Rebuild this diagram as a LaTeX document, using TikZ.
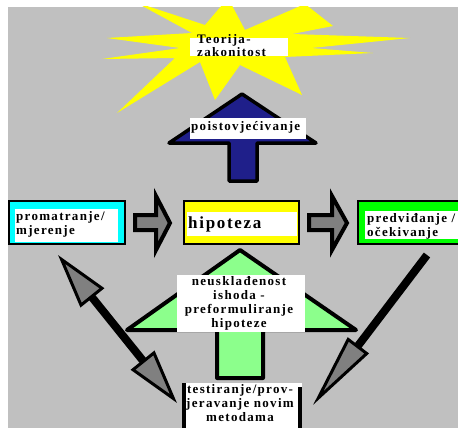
\documentclass[tikz,border=0pt]{standalone}
\usepackage{fontspec}
\newfontfamily\lbl[LetterSpace=10]{Liberation Serif}
\usetikzlibrary{arrows.meta}
\definecolor{bgray}{RGB}{192,192,192}
\definecolor{navyb}{RGB}{31,31,138}
\definecolor{lgreen}{RGB}{140,255,140}
\definecolor{agray}{RGB}{128,128,128}
\definecolor{sunyel}{RGB}{255,255,0}
\definecolor{boxgreen}{RGB}{0,255,0}
\definecolor{boxcyan}{RGB}{0,255,255}
\begin{document}
\begin{tikzpicture}[x=1pt,y=-1pt,
  txt/.style={font=\lbl\bfseries\fontsize{13}{13.8}\selectfont, inner sep=0pt, text=black},
  bigtxt/.style={font=\lbl\bfseries\fontsize{17}{19}\selectfont, inner sep=0pt, text=black},
  box/.style={draw=black, line width=2pt, inner sep=0pt},
  wbox/.style={fill=white, inner sep=0pt},
  blockarrow/.style={draw=black, line width=4pt, line join=round},
  grayarrow/.style={draw=black, fill=agray, line width=4pt, line join=miter},
  gtip/.tip={Triangle[length=55pt, width=30pt, line width=3pt, fill=agray]},
  stick/.style={draw=black, line width=8pt}
]
\useasboundingbox (0,0) rectangle (458,428);
\fill[white] (0,0) rectangle (458,428);
\fill[bgray] (8,7) rectangle (458,428);

% sun
\begin{scope}
\clip (8,7) rectangle (458,428);
\fill[sunyel] (228,-2) -- (245,30) -- (305,4) -- (333,26) -- (292,34) -- (410,38)
  -- (311,48) -- (373,53) -- (285,57) -- (302,95) -- (240,65) -- (215,100)
  -- (200,62) -- (117,113) -- (175,58) -- (102,59) -- (180,48) -- (107,38)
  -- (192,33) -- (135,2) -- (205,25) -- cycle;
\end{scope}
\node[wbox, minimum width=98pt, minimum height=18pt] (teobox) at (239,47) {};
\node[txt, align=left, anchor=base west] (teo) at (197,57) {Teorija-\\zakonitost};

% blue up arrow (hipoteza -> teorija)
\draw[blockarrow, line width=3.5pt, fill=navyb] (242,94) -- (316,143) -- (257,143) -- (257,181)
  -- (229,181) -- (229,143) -- (169,143) -- cycle;
\node[wbox, minimum width=116pt, minimum height=21pt] (poibox) at (248,128.5) {};
\node[txt, anchor=base west] (poi) at (191,130) {poistovjećivanje};

% boxes
\node[box, fill=boxcyan, minimum width=116pt, minimum height=43pt] (obs) at (67,222.5) {};
\node[wbox, minimum width=103pt, minimum height=33pt] (obsin) at (66.5,225.5) {};
\node[txt, align=left, anchor=base west] (obst) at (16,234.5) {promatranje/\\mjerenje};

\node[box, fill=sunyel, minimum width=115pt, minimum height=43pt] (hyp) at (241.5,222.5) {};
\node[wbox, minimum width=110pt, minimum height=24pt] (hypin) at (242,224) {};
\node[bigtxt, anchor=base west] (hypt) at (188,228) {hipoteza};

\node[box, fill=boxgreen, minimum width=112pt, minimum height=43pt] (pre) at (414,222.5) {};
\node[wbox, minimum width=95pt, minimum height=28pt] (prein) at (412.5,225) {};
\node[txt, align=left, anchor=base west] (pret) at (367,236) {predviđanje /\\očekivanje};

% gray block arrows
\draw[grayarrow] (135,215) -- (156,215) -- (156,196) -- (170,223) -- (156,250)
  -- (156,230) -- (135,230) -- cycle;
\draw[grayarrow] (309,215) -- (332,215) -- (332,196) -- (347,223) -- (332,250)
  -- (332,230) -- (309,230) -- cycle;

% green up arrow (testiranje -> hipoteza)
\draw[blockarrow, fill=lgreen] (240,250) -- (356,330) -- (263,330) -- (263,378)
  -- (217,378) -- (217,330) -- (127,330) -- cycle;
\node[wbox, minimum width=128pt, minimum height=57pt] (neubox) at (241,303.5) {};
\node[txt, align=center, anchor=base] (neu) at (239,327) {neusklađenost\\ishoda -\\preformuliranje\\hipoteze};

% bottom box
\node[wbox, minimum width=120pt, minimum height=50pt, anchor=north west] (tes) at (182,383) {};
\draw[black, line width=3.5pt] (183.75,383) -- (183.75,430);
\draw[black, line width=3.5pt] (300,387) -- (300,430);
\node[txt, align=center, anchor=base] (test) at (240,421) {testiranje/prov-\\jeravanje novim\\metodama};

% thin arrows
\coordinate (l1) at (58,255);
\coordinate (l2) at (177,403);
\draw[stick, {gtip}-{gtip}] (l1) -- (l2);
\coordinate (r1) at (427,255);
\coordinate (r2) at (313,405);
\draw[stick, -{Triangle[length=75pt, width=26pt, line width=3pt, fill=agray]}] (r1) -- (r2);
\end{tikzpicture}
\end{document}
